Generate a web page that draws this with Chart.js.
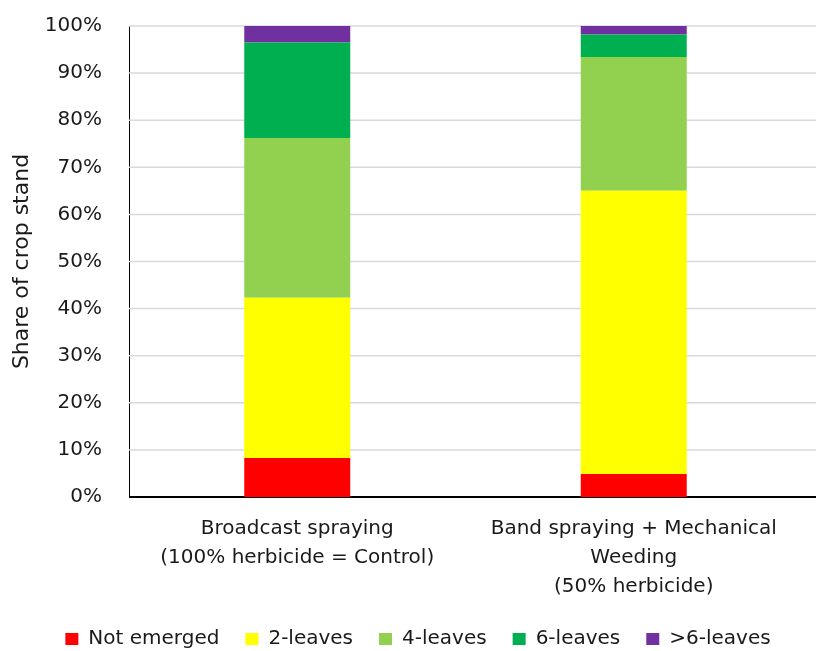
<!DOCTYPE html>
<html>
<head>
<meta charset="utf-8">
<script src="https://cdn.jsdelivr.net/npm/chart.js@4/dist/chart.umd.min.js"></script>
<style>
  html, body { margin: 0; padding: 0; background: #ffffff; }
  #wrap { width: 816px; height: 651px; position: relative; }
</style>
</head>
<body>
<div id="wrap"><canvas id="chart"></canvas></div>
<script>
// Treatments on the x axis (multi-line labels)
const categories = [
  ['Broadcast spraying', '(100% herbicide = Control)'],
  ['Band spraying + Mechanical', 'Weeding', '(50% herbicide)']
];

// Share of the crop stand (%) in each growth stage
const notEmerged = [8.3, 4.9];
const twoLeaves  = [34.0, 60.1];
const fourLeaves = [33.9, 28.4];
const sixLeaves  = [20.3, 4.8];
const moreLeaves = [3.5, 1.8];

const seriesNames = ['Not emerged', '2-leaves', '4-leaves', '6-leaves', '>6-leaves'];
const seriesColors = ['#FF0000', '#FFFF00', '#92D050', '#00B050', '#7030A0'];
const seriesValues = [notEmerged, twoLeaves, fourLeaves, sixLeaves, moreLeaves];

const yTicks = [0, 10, 20, 30, 40, 50, 60, 70, 80, 90, 100];

const FONT = 'DejaVu Sans';
const TEXT = '#1a1a1a';

// Horizontal grid lines and the black base line, run across to the right edge of the canvas
const gridToEdge = {
  id: 'gridToEdge',
  beforeDatasetsDraw(chart) {
    const { ctx, chartArea, scales } = chart;
    const y = scales.y;
    ctx.save();
    y.ticks.forEach(t => {
      const py = y.getPixelForValue(t.value);
      if (t.value === 0) {
        ctx.strokeStyle = '#000000';
        ctx.lineWidth = 2;
      } else {
        ctx.strokeStyle = '#d9d9d9';
        ctx.lineWidth = 1.5;
      }
      ctx.beginPath();
      ctx.moveTo(chartArea.left, py);
      ctx.lineTo(chart.width, py);
      ctx.stroke();
    });
    ctx.restore();
  }
};

new Chart(document.getElementById('chart'), {
  type: 'bar',
  data: {
    labels: categories,
    datasets: seriesNames.map((name, i) => ({
      label: name,
      data: seriesValues[i],
      backgroundColor: seriesColors[i],
      borderWidth: 0,
      categoryPercentage: 1.0,
      barPercentage: 0.315
    }))
  },
  options: {
    responsive: true,
    maintainAspectRatio: false,
    animation: false,
    devicePixelRatio: 1,
    // the negative right padding widens the legend row; the plot keeps its own right margin below
    layout: { padding: { top: 26, right: -20, left: 0, bottom: -8 } },
    plugins: {
      legend: {
        position: 'bottom',
        labels: {
          font: { family: FONT, size: 20 },
          color: TEXT,
          boxWidth: 13,
          boxHeight: 12,
          padding: 26
        }
      },
      tooltip: { enabled: false }
    },
    scales: {
      x: {
        stacked: true,
        afterFit(scale) {
          scale.height -= 16;
          scale.paddingRight = 14;
        },
        grid: { display: false, drawTicks: false },
        border: { display: false },
        ticks: {
          font: { family: FONT, size: 20, lineHeight: 1.45 },
          color: TEXT,
          padding: 17.5,
          maxRotation: 0,
          autoSkip: false
        }
      },
      y: {
        stacked: true,
        min: 0,
        max: 100,
        afterBuildTicks(scale) {
          scale.ticks = yTicks.map(v => ({ value: v }));
        },
        afterFit(scale) {
          scale.width = 129;
          scale.paddingTop = 0;
          scale.paddingBottom = 0;
        },
        grid: { display: false, drawTicks: false },
        border: { display: true, color: '#000000', width: 1 },
        ticks: {
          font: { family: FONT, size: 20 },
          color: TEXT,
          padding: 27,
          callback: v => v + '%'
        },
        title: {
          display: true,
          text: 'Share of crop stand',
          font: { family: FONT, size: 22 },
          color: TEXT,
          padding: { top: 9, bottom: 0 }
        }
      }
    }
  },
  plugins: [gridToEdge]
});
</script>
</body>
</html>
